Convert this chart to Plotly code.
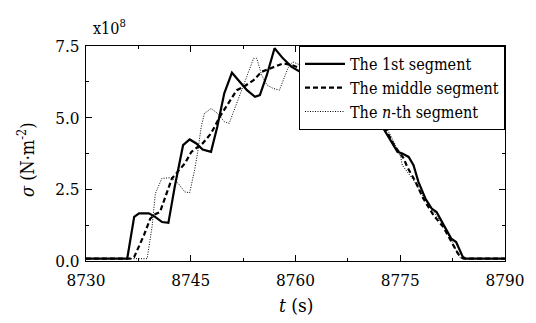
import plotly.graph_objects as go

# ---- data (sigma in units of 1e8 N/m^2) ----
t_first = [8730, 8735.9, 8736.9, 8737.6, 8739.0, 8739.9, 8740.9, 8741.8, 8742.7, 8743.7,
           8743.9, 8744.85, 8745.8, 8746.7, 8747.9, 8748.8, 8749.8, 8750.9, 8753.05, 8754.2,
           8754.9, 8755.9, 8757.0, 8758.2, 8759.4, 8761, 8764, 8767, 8770, 8772.0, 8773.4,
           8774.6, 8775.3, 8776.2, 8776.9, 8777.6, 8778.6, 8779.5, 8780.2, 8781.15, 8782.3,
           8783.0, 8783.96, 8784.4, 8790]
s_first = [0.08, 0.08, 1.54, 1.66, 1.66, 1.54, 1.36, 1.33, 2.58, 3.87,
           4.04, 4.24, 4.10, 3.89, 3.81, 4.68, 5.85, 6.57, 5.96, 5.73,
           5.79, 6.49, 7.42, 7.07, 6.78, 6.55, 6.2, 5.8, 5.3, 4.86, 4.28,
           3.81, 3.75, 3.63, 3.34, 2.76, 2.18, 1.83, 1.71, 1.31, 0.78,
           0.66, 0.14, 0.08, 0.08]

t_middle = [8730, 8736.3, 8736.9, 8738.3, 8739.2, 8739.9, 8740.6, 8742.3, 8744.15, 8745.1,
            8746.7, 8747.9, 8749.3, 8750.7, 8751.6, 8752.6, 8754.0, 8755.15, 8757.0, 8758.2,
            8759.4, 8761, 8764, 8767, 8770, 8772.5, 8774.1, 8775.5, 8776.0, 8777.2, 8778.3,
            8779.75, 8781.15, 8782.3, 8783.26, 8783.7, 8784.1, 8790]
s_middle = [0.08, 0.08, 0.14, 0.90, 1.48, 1.63, 1.71, 2.88, 3.40, 3.81,
            4.10, 4.45, 5.09, 5.61, 5.96, 6.08, 6.31, 6.60, 6.78, 6.89,
            6.84, 6.7, 6.35, 5.85, 5.3, 4.80, 4.04, 3.58, 3.28, 2.76, 2.18,
            1.60, 1.19, 0.66, 0.26, 0.14, 0.08, 0.08]

t_nth = [8730, 8738.75, 8739.46, 8739.93, 8740.86, 8742.27, 8743.2, 8744.15, 8744.85, 8745.55,
         8746.0, 8746.5, 8746.96, 8747.9, 8748.8, 8749.8, 8750.5, 8752.3, 8753.3, 8754.0,
         8754.45, 8755.15, 8755.9, 8756.8, 8757.7, 8758.9, 8759.6, 8761, 8764, 8767, 8770,
         8772.7, 8774.1, 8775.06, 8775.3, 8776.9, 8778.6, 8780.0, 8781.15, 8782.55, 8783.5,
         8783.8, 8790]
s_nth = [0.08, 0.08, 1.19, 2.35, 2.88, 2.91, 2.71, 2.41, 2.38, 3.17,
         3.81, 4.68, 5.15, 5.32, 5.16, 4.86, 4.80, 5.96, 6.66, 7.07,
         7.07, 6.49, 6.14, 6.02, 5.96, 6.72, 6.95, 6.8, 6.4, 5.9, 5.35,
         4.80, 4.15, 3.63, 3.34, 2.82, 2.12, 1.66, 1.25, 0.61, 0.14,
         0.08, 0.08]

series_names = ["The 1st segment", "The middle segment", "The <i>n</i>-th segment"]
x_ticks = [8730, 8745, 8760, 8775, 8790]
y_ticks = [0.0, 2.5, 5.0, 7.5]
y_tick_labels = ["0.0", "2.5", "5.0", "7.5"]

FONT = "DejaVu Serif Condensed"

fig = go.Figure()
fig.add_trace(go.Scatter(x=t_first, y=s_first, mode="lines", name=series_names[0],
                         line=dict(color="black", width=2.2)))
fig.add_trace(go.Scatter(x=t_middle, y=s_middle, mode="lines", name=series_names[1],
                         line=dict(color="black", width=2.2, dash="5px,3px")))
fig.add_trace(go.Scatter(x=t_nth, y=s_nth, mode="lines", name=series_names[2],
                         line=dict(color="black", width=1, dash="1px,1.5px")))

axis_common = dict(showline=True, linecolor="black", linewidth=1, mirror="ticks",
                   ticks="inside", ticklen=6, tickcolor="black", showgrid=False,
                   zeroline=False, ticklabeloverflow="allow",
                   tickfont=dict(family=FONT, size=17, color="black"))

fig.update_xaxes(range=[8730, 8790], tickvals=x_ticks,
                 minor=dict(ticks="inside", ticklen=3, dtick=7.5, tick0=8730, tickcolor="black"),
                 ticklabelstandoff=4, **axis_common)
fig.update_yaxes(range=[0, 7.5], tickvals=y_ticks, ticktext=y_tick_labels,
                 minor=dict(ticks="inside", ticklen=3, dtick=1.25, tick0=0, tickcolor="black"),
                 ticklabelstandoff=2, **axis_common)

fig.update_layout(
    width=536, height=323,
    margin=dict(l=86, r=23, t=46, b=62),
    paper_bgcolor="white", plot_bgcolor="white",
    font=dict(family=FONT, color="black"),
    showlegend=True,
    legend=dict(x=1, xanchor="right", y=1, yanchor="top",
                bgcolor="white", bordercolor="black", borderwidth=1,
                font=dict(family=FONT, size=16, color="black"),
                tracegroupgap=0, itemwidth=40),
    annotations=[
        dict(text="x10<sup>8</sup>", xref="paper", yref="paper", x=0.012, y=1.085,
             xanchor="left", yanchor="middle", showarrow=False,
             font=dict(family=FONT, size=16, color="black")),
        dict(text="<i>t</i> (s)", xref="paper", yref="paper", x=0.501, y=-0.205,
             xanchor="center", yanchor="middle", showarrow=False,
             font=dict(family=FONT, size=19, color="black")),
        dict(text="<i>σ</i> (N·m<sup>-2</sup>)", xref="paper", yref="paper", x=-0.143, y=0.47,
             xanchor="center", yanchor="middle", showarrow=False, textangle=-90,
             font=dict(family=FONT, size=18, color="black")),
    ],
)

fig.write_html("out.html")
